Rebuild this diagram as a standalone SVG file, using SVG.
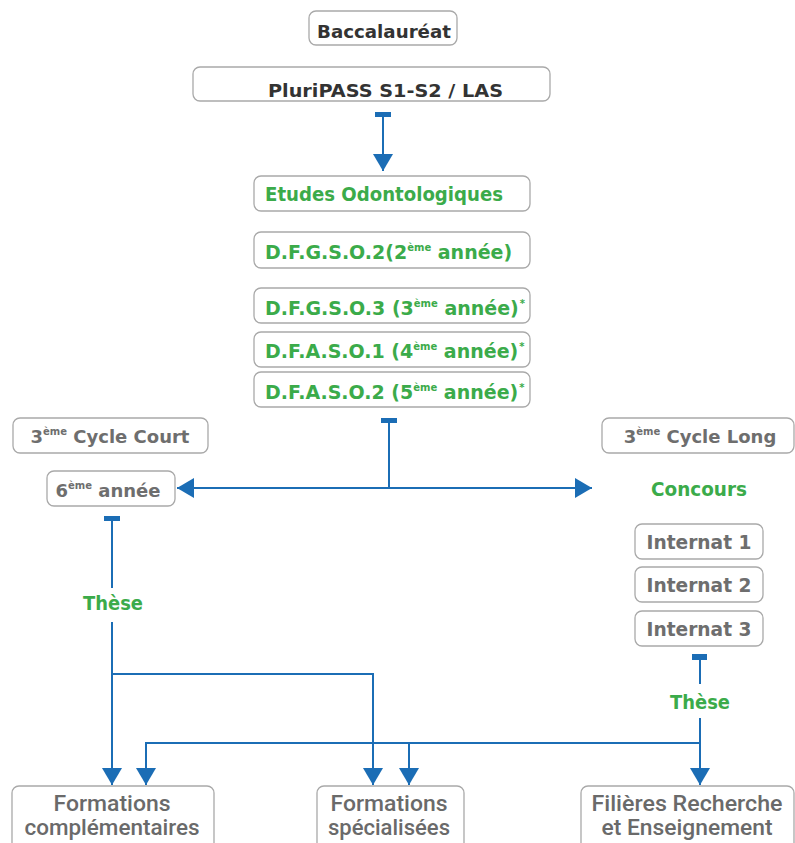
<svg xmlns="http://www.w3.org/2000/svg" width="795" height="843" viewBox="0 0 795 843">
<style>
.box{fill:#fff;stroke:#a9a9a9;stroke-width:1.3}
.t{font-family:"DejaVu Sans","Liberation Sans",sans-serif;font-weight:bold}
.dark{fill:#333}
.grn{fill:#3bab4a}
.gry{fill:#6e6e6e}
.bot{font-family:Roboto,"Liberation Sans",sans-serif;font-size:22px;font-weight:500;fill:#6a6a6a;text-anchor:middle}
.sup{font-size:10px}
.ln{fill:none;stroke:#1b6db5;stroke-width:2}
.cap{fill:#1b6db5}
</style>
<defs>
<marker id="arr" markerWidth="18" markerHeight="20" refX="17" refY="10" orient="auto" markerUnits="userSpaceOnUse">
<path d="M0,0 L17,10 L0,20 z" fill="#1b6db5"/>
</marker>
</defs>
<rect width="795" height="843" fill="#fff"/>

<g id="bac"><rect class="box" x="309" y="11" width="148" height="34" rx="7"/>
<text class="t dark" x="317" y="38" font-size="18" textLength="134" lengthAdjust="spacingAndGlyphs">Baccalauréat</text></g>

<g id="paces"><rect class="box" x="193" y="67" width="357" height="34" rx="7"/>
<text class="t dark" x="268" y="97" font-size="18" textLength="235" lengthAdjust="spacingAndGlyphs">PluriPASS S1-S2 / LAS</text></g>

<g id="etudes"><rect class="box" x="254" y="176" width="276" height="35" rx="7"/>
<text class="t grn" x="265" y="201" font-size="20" textLength="238" lengthAdjust="spacingAndGlyphs">Etudes Odontologiques</text></g>

<g id="dfgso2"><rect class="box" x="254" y="232" width="276" height="36" rx="7"/>
<text class="t grn" x="265" y="259" font-size="19">D.F.G.S.O.2(2<tspan class="sup" dy="-8">ème</tspan><tspan dy="8"> année)</tspan></text></g>

<g id="dfgso3"><rect class="box" x="254" y="288" width="276" height="35" rx="7"/>
<text class="t grn" x="265" y="315" font-size="19">D.F.G.S.O.3 (3<tspan class="sup" dy="-8">ème</tspan><tspan dy="8"> année)</tspan><tspan class="sup" dx="1" dy="-8">*</tspan></text></g>

<g id="dfaso1"><rect class="box" x="254" y="332" width="276" height="35" rx="7"/>
<text class="t grn" x="265" y="358" font-size="19">D.F.A.S.O.1 (4<tspan class="sup" dy="-8">ème</tspan><tspan dy="8"> année)</tspan><tspan class="sup" dx="1" dy="-8">*</tspan></text></g>

<g id="dfaso2"><rect class="box" x="254" y="372" width="276" height="35" rx="7"/>
<text class="t grn" x="265" y="399" font-size="19">D.F.A.S.O.2  (5<tspan class="sup" dy="-8">ème</tspan><tspan dy="8"> année)</tspan><tspan class="sup" dx="1" dy="-8">*</tspan></text></g>

<g id="court"><rect class="box" x="13" y="418" width="195" height="35" rx="7"/>
<text class="t gry" x="110" y="443" font-size="18" text-anchor="middle">3<tspan class="sup" dy="-8">ème</tspan><tspan dy="8"> Cycle Court</tspan></text></g>

<g id="sixieme"><rect class="box" x="47" y="471" width="128" height="35" rx="7"/>
<text class="t gry" x="108" y="497" font-size="18" text-anchor="middle">6<tspan class="sup" dy="-8">ème</tspan><tspan dy="8"> année</tspan></text></g>

<g id="long"><rect class="box" x="602" y="418" width="192" height="35" rx="7"/>
<text class="t gry" x="700" y="443" font-size="18" text-anchor="middle">3<tspan class="sup" dy="-8">ème</tspan><tspan dy="8"> Cycle Long</tspan></text></g>

<g id="concours"><text class="t grn" x="699" y="496" font-size="19" text-anchor="middle" textLength="96" lengthAdjust="spacingAndGlyphs">Concours</text></g>

<g id="int1"><rect class="box" x="635" y="524" width="128" height="35" rx="7"/>
<text class="t gry" x="699" y="549" font-size="19" text-anchor="middle" textLength="105" lengthAdjust="spacingAndGlyphs">Internat 1</text></g>
<g id="int2"><rect class="box" x="635" y="567" width="128" height="35" rx="7"/>
<text class="t gry" x="699" y="592" font-size="19" text-anchor="middle" textLength="105" lengthAdjust="spacingAndGlyphs">Internat 2</text></g>
<g id="int3"><rect class="box" x="635" y="611" width="128" height="35" rx="7"/>
<text class="t gry" x="699" y="636" font-size="19" text-anchor="middle" textLength="105" lengthAdjust="spacingAndGlyphs">Internat 3</text></g>

<g id="these1"><text class="t grn" x="113" y="610" font-size="19" text-anchor="middle" textLength="60" lengthAdjust="spacingAndGlyphs">Thèse</text></g>
<g id="these2"><text class="t grn" x="700" y="709" font-size="19" text-anchor="middle" textLength="60" lengthAdjust="spacingAndGlyphs">Thèse</text></g>

<g id="fcomp"><rect class="box" x="12" y="786" width="202" height="70" rx="7"/>
<text class="bot" x="112" y="811" textLength="117" lengthAdjust="spacingAndGlyphs">Formations</text>
<text class="bot" x="112" y="835" textLength="175" lengthAdjust="spacingAndGlyphs">complémentaires</text></g>

<g id="fspec"><rect class="box" x="317" y="786" width="147" height="70" rx="7"/>
<text class="bot" x="389" y="811" textLength="117" lengthAdjust="spacingAndGlyphs">Formations</text>
<text class="bot" x="389" y="835" textLength="122" lengthAdjust="spacingAndGlyphs">spécialisées</text></g>

<g id="frech"><rect class="box" x="581" y="786" width="213" height="70" rx="7"/>
<text class="bot" x="687" y="811" textLength="191" lengthAdjust="spacingAndGlyphs">Filières Recherche</text>
<text class="bot" x="687" y="835" textLength="171" lengthAdjust="spacingAndGlyphs">et Enseignement</text></g>

<g id="connectors">
<rect class="cap" x="375" y="112" width="16" height="5"/>
<path class="ln" d="M383,114 V171" marker-end="url(#arr)"/>
<rect class="cap" x="381" y="418" width="16" height="5"/>
<path class="ln" d="M389,421 V488"/>
<path class="ln" d="M389,488 H177" marker-end="url(#arr)"/>
<path class="ln" d="M389,488 H592" marker-end="url(#arr)"/>
<rect class="cap" x="104" y="516" width="16" height="5"/>
<path class="ln" d="M112,518 V588"/>
<path class="ln" d="M112,622 V785" marker-end="url(#arr)"/>
<path class="ln" d="M112,674 H373 V785" marker-end="url(#arr)"/>
<rect class="cap" x="692" y="654" width="15" height="6"/>
<path class="ln" d="M700,657 V684"/>
<path class="ln" d="M700,718 V785" marker-end="url(#arr)"/>
<path class="ln" d="M700,743 H146 V785" marker-end="url(#arr)"/>
<path class="ln" d="M409,743 V785" marker-end="url(#arr)"/>
</g>
</svg>
